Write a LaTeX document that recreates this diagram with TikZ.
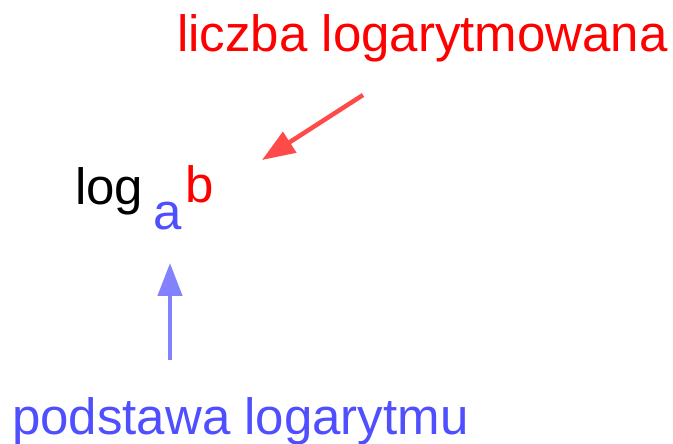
\documentclass[tikz,border=0pt]{standalone}
\usepackage{fontspec}
\setmainfont{Liberation Sans}
\usetikzlibrary{arrows.meta}
\definecolor{numred}{HTML}{FF0000}
\definecolor{basblue}{HTML}{4F4FFF}
\definecolor{arrred}{HTML}{FF4A4A}
\definecolor{arrblue}{HTML}{8282FF}
\tikzset{
  lbl/.style={anchor=base west, inner sep=0pt, font=\fontsize{51}{61}\selectfont},
  pointer/.style={line width=4.5pt, -{Triangle[length=33pt,width=24pt]}},
}
\begin{document}
\begin{tikzpicture}[x=1pt,y=1pt]
  \useasboundingbox (0,0) rectangle (673,444);
  % labels
  \node[lbl, text=numred] (num) at (177,392) {liczba logarytmowana};
  \node[lbl, text=basblue] (base) at (12,9) {podstawa logarytmu};
  % the expression log_a b
  \node[lbl, text=black] (log) at (75,239) {log};
  \node[lbl, text=basblue] (sub) at (153,214) {a};
  \node[lbl, text=numred] (arg) at (185,241) {b};
  % arrow ends
  \coordinate (redtail) at (363,349);
  \coordinate (redtip) at (262,284);
  \coordinate (bluetail) at (170,84);
  \coordinate (bluetip) at (170,181);
  \draw[pointer, arrred] (redtail) -- (redtip);
  \draw[pointer, arrblue] (bluetail) -- (bluetip);
\end{tikzpicture}
\end{document}
